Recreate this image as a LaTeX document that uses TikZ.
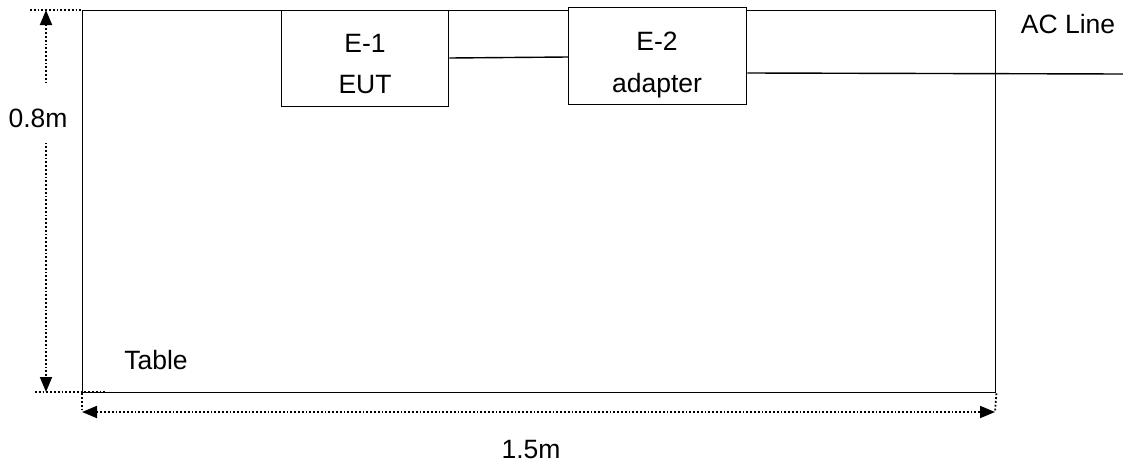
\documentclass[tikz,border=0pt]{standalone}
\usepackage{fontspec}
\setmainfont{Liberation Sans}
\usetikzlibrary{arrows.meta}
\begin{document}
\begin{tikzpicture}[x=1pt,y=-1pt,
  lbl/.style={font=\fontsize{26.5}{30}\selectfont, inner sep=0pt, anchor=base},
  box/.style={draw, line width=1.4pt, inner sep=0pt, anchor=north west},
  wire/.style={line width=1.4pt},
  dim/.style={line width=1.8pt, dotted},
  dimarrow/.style={dim, {Triangle[length=15pt,width=12pt]}-{Triangle[length=15pt,width=12pt]}}]
\useasboundingbox (0,0) rectangle (1123,466);
% table
\node[box, minimum width=913pt, minimum height=382pt] (table) at (82,10) {};
% devices
\node[box, fill=white, minimum width=167pt, minimum height=96pt] (e1) at (281,10) {};
\node[lbl] (e1a) at (365,52) {E-1};
\node[lbl] (e1b) at (365,93) {EUT};
\node[box, fill=white, minimum width=178pt, minimum height=97pt] (e2) at (568,7) {};
\node[lbl] (e2a) at (657,50) {E-2};
\node[lbl] (e2b) at (657,92) {adapter};
\coordinate (acend) at (1123,74);
\draw[wire] (e1.east |- 0,58) -- (e2.west |- 0,57);
\draw[wire] (e2.east |- 0,73) -- (acend);
\node[lbl] (ac) at (1068,33) {AC Line};
\node[lbl] (tbl) at (156,369) {Table};
% vertical dimension
\coordinate (tl) at (30,10);
\coordinate (bl) at (35,392);
\coordinate (blr) at (105,392);
\draw[dim] (tl) -- (table.north west);
\draw[dim] (bl) -- (blr);
\coordinate (vt) at (46,10);
\coordinate (vb) at (46,392);
\draw[dimarrow] (vt) -- (vb);
\node[fill=white, inner sep=0pt, minimum width=64pt, minimum height=58pt] (h) at (45,114) {};
\node[lbl] (hl) at (38,127) {0.8m};
% horizontal dimension
\coordinate (hl0) at (82,412);
\coordinate (hr0) at (995,412);
\draw[dim] (table.south west) -- (hl0);
\draw[dim] (table.south east) -- (hr0);
\draw[dimarrow] (hl0) -- (hr0);
\node[lbl] (w) at (531,458) {1.5m};
\end{tikzpicture}
\end{document}
